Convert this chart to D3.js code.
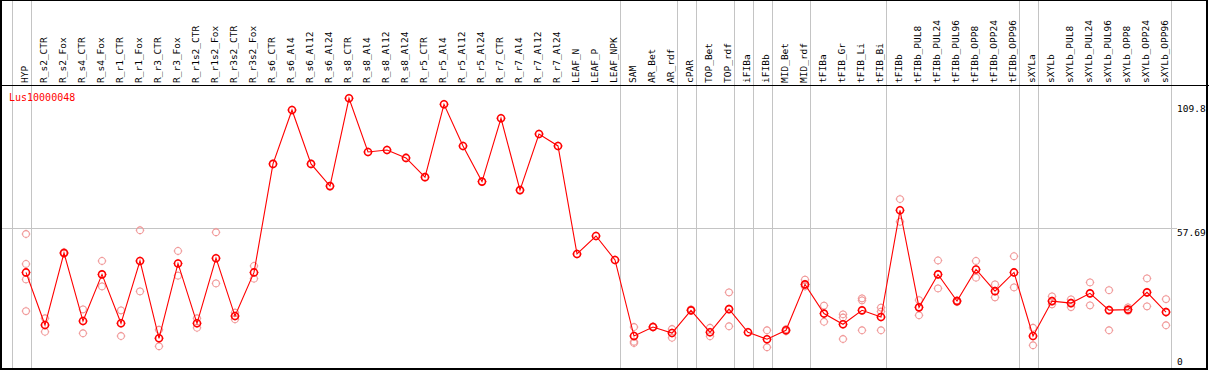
<!DOCTYPE html>
<html>
<head>
<meta charset="utf-8">
<script src="https://cdn.jsdelivr.net/npm/d3@7"></script>
<style>
    body { margin: 0; background: #fff; }
    text { font-family: 'DejaVu Sans Mono', monospace; }
</style>
</head>
<body>
<svg width="1209" height="370"></svg>
<script>
// gene shown in the plot
const geneName = 'Lus10000048';

// sample names (x categories)
const samples = [
    'HYP', 'R_s2_CTR', 'R_s2_Fox', 'R_s4_CTR', 'R_s4_Fox', 'R_r1_CTR', 'R_r1_Fox',
    'R_r3_CTR', 'R_r3_Fox', 'R_r1s2_CTR', 'R_r1s2_Fox', 'R_r3s2_CTR', 'R_r3s2_Fox',
    'R_s6_CTR', 'R_s6_Al4', 'R_s6_Al12', 'R_s6_Al24', 'R_s8_CTR', 'R_s8_Al4', 'R_s8_Al12',
    'R_s8_Al24', 'R_r5_CTR', 'R_r5_Al4', 'R_r5_Al12', 'R_r5_Al24', 'R_r7_CTR', 'R_r7_Al4',
    'R_r7_Al12', 'R_r7_Al24', 'LEAF_N', 'LEAF_P', 'LEAF_NPK', 'SAM', 'AR_Bet', 'AR_rdf',
    'cPAR', 'TOP_Bet', 'TOP_rdf', 'iFIBa', 'iFIBb', 'MID_Bet', 'MID_rdf', 'tFIBa',
    'tFIB_Gr', 'tFIB_Li', 'tFIB_Bi', 'tFIBb', 'tFIBb_PUL8', 'tFIBb_PUL24', 'tFIBb_PUL96',
    'tFIBb_OPP8', 'tFIBb_OPP24', 'tFIBb_OPP96', 'sXYLa', 'sXYLb', 'sXYLb_PUL8',
    'sXYLb_PUL24', 'sXYLb_PUL96', 'sXYLb_OPP8', 'sXYLb_OPP24', 'sXYLb_OPP96'
];

// mean expression per sample
const means = [
    40.0, 18.9, 47.8, 20.5, 39.2, 19.6, 44.6,
    13.6, 43.6, 19.6, 45.7, 22.5, 40.0,
    83.5, 105.1, 83.5, 74.6, 109.8, 88.3, 89.1,
    85.9, 78.2, 107.4, 90.7, 76.4, 101.8, 73.0,
    95.5, 90.7, 47.4, 54.6, 45.0, 14.5, 18.1, 15.7,
    24.8, 16.0, 25.3, 16.0, 13.2, 16.8, 35.2, 23.5,
    19.2, 24.8, 22.1, 64.9, 26.0, 39.2, 28.5,
    41.2, 32.5, 40.0, 14.5, 28.5, 27.7,
    31.6, 24.9, 25.1, 32.0, 24.1
];

// replicate values per sample (empty = no replicates shown)
const replicates = [
    [55.4, 43.4, 37.2, 24.5], [21.6, 16.2], [47.5, 48.1], [25.2, 15.6], [44.6, 34.4], [24.8, 14.5], [56.9, 32.4],
    [17.0, 10.4], [48.6, 38.7], [21.6, 17.8], [56.1, 35.6], [23.9, 21.2], [42.6, 37.5],
    [], [], [], [], [], [], [],
    [], [], [], [], [], [], [],
    [], [], [], [], [], [18.1, 12.2, 11.7], [18.1, 18.3], [17.3, 13.8],
    [24.8, 25.2], [17.8, 14.4], [32.0, 18.4], [], [16.8, 10.0], [17.2, 16.4], [37.1, 35.0, 34.4], [26.7, 20.2],
    [23.2, 21.9, 13.3], [29.6, 28.8, 16.8], [25.9, 24.3, 16.8], [69.4, 60.3], [28.9, 22.8], [44.8, 33.6], [28.2, 28.8],
    [44.6, 37.9], [35.2, 30.0], [46.5, 34.0], [17.8, 10.8], [30.4, 27.2], [29.2, 26.1],
    [36.0, 26.8], [32.9, 16.8], [26.0, 24.6], [37.6, 26.4], [29.3, 18.8]
];

// last sample of each group (a separator is drawn after it)
const groupEnds = [
    'HYP', 'R_r7_A124', 'LEAF_NPK', 'AR_rdf', 'cPAR', 'TOP_rdf', 'iFIBa', 'iFIBb',
    'MID_rdf', 'tFIB_Bi', 'tFIBb_OPP96', 'sXYLa', 'sXYLb_OPP96'
];

// right axis labels
const tickValues = [0, 57.69, 109.8];

const svg = d3.select('svg');
const width = +svg.attr('width');
const height = +svg.attr('height');

const render = () => {
    const headerH = 85;
    const lineColor = 'red';
    const repColor = '#f09595';

    const xScale = d3.scalePoint()
        .domain(samples)
        .range([26, 1166]);
    const step = xScale.step();

    const yScale = d3.scaleLinear()
        .domain([0, d3.max(means)])
        .range([372.2, 98.3]);

    //* gray separators between sample groups
    const seps = [xScale(samples[0]) - step + 4.5]
        .concat(groupEnds.map(s => xScale(s) + 4.5));
    svg.selectAll('line.sep').data(seps)
        .enter().append('line')
        .attr('class', 'sep')
        .attr('x1', d => Math.round(d) + 0.5)
        .attr('x2', d => Math.round(d) + 0.5)
        .attr('y1', 0)
        .attr('y2', height)
        .style('stroke', '#c4c4c4')
        .style('stroke-width', 1);

    //* horizontal reference line
    svg.append('line')
        .attr('x1', 1)
        .attr('x2', 1177)
        .attr('y1', Math.round(yScale(tickValues[1])) + 0.5)
        .attr('y2', Math.round(yScale(tickValues[1])) + 0.5)
        .style('stroke', '#c4c4c4')
        .style('stroke-width', 1);

    //* header separator + frame
    svg.append('line')
        .attr('x1', 0).attr('x2', width)
        .attr('y1', headerH + 0.5).attr('y2', headerH + 0.5)
        .style('stroke', 'black');

    svg.append('rect')
        .attr('x', 1).attr('y', 0)
        .attr('width', width - 3).attr('height', height - 1)
        .style('fill', 'none')
        .style('stroke', 'black')
        .style('stroke-width', 2);

    //* rotated sample labels
    svg.selectAll('text.lab').data(samples)
        .enter().append('text')
        .attr('class', 'lab')
        .attr('transform', d => `translate(${xScale(d) + 2},${headerH - 2}) rotate(-90)`)
        .style('font-size', '9.5px')
        .style('fill', 'black')
        .text(d => d);

    //* gene name
    svg.append('text')
        .attr('x', 9)
        .attr('y', 100.5)
        .style('font-size', '10px')
        .style('fill', lineColor)
        .text(geneName);

    //* right axis values
    svg.selectAll('text.tick').data(tickValues)
        .enter().append('text')
        .attr('class', 'tick')
        .attr('x', 1177)
        .attr('y', d => Math.max(112, Math.min(365, yScale(d) + 7.5)))
        .style('font-size', '9.5px')
        .style('fill', 'black')
        .text(d => d);

    //* marker: circle with tiny ticks
    const marker = (sel, color, r, sw) => {
        sel.append('circle')
            .attr('r', r)
            .style('fill', 'none')
            .style('stroke', color)
            .style('stroke-width', sw);
        sel.append('path')
            .attr('d', `M0,${-r - 1}V${-r}M0,${r}V${r + 1}M${-r - 1},0H${-r}M${r},0H${r + 1}`)
            .style('stroke', color)
            .style('stroke-width', 0.8);
    };

    //* replicate points
    const reps = [];
    replicates.forEach((vals, i) => vals.forEach(v => reps.push({ s: samples[i], v })));
    svg.selectAll('g.rep').data(reps)
        .enter().append('g')
        .attr('class', 'rep')
        .attr('transform', d => `translate(${xScale(d.s)},${yScale(d.v)})`)
        .call(marker, repColor, 3.4, 1.1);

    //* mean line
    const line = d3.line()
        .x((d, i) => xScale(samples[i]))
        .y(d => yScale(d));
    svg.append('path')
        .datum(means)
        .attr('d', line)
        .style('fill', 'none')
        .style('stroke', lineColor)
        .style('stroke-width', 1.1);

    //* mean points
    svg.selectAll('g.mean').data(means)
        .enter().append('g')
        .attr('class', 'mean')
        .attr('transform', (d, i) => `translate(${xScale(samples[i])},${yScale(d)})`)
        .call(marker, lineColor, 3.5, 1.6);
};

render();
</script>
</body>
</html>
